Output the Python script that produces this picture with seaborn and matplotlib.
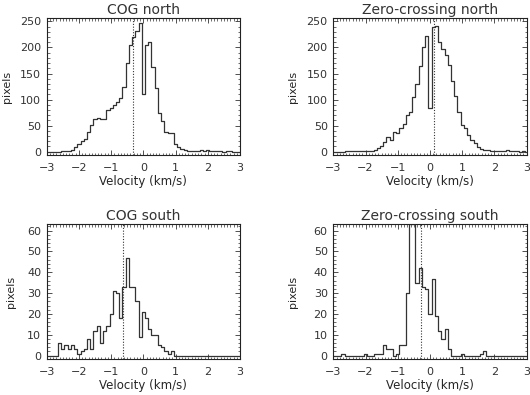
import numpy as np
import pandas as pd
import matplotlib
matplotlib.use("Agg")
import matplotlib.pyplot as plt
from matplotlib.ticker import MultipleLocator
import seaborn as sns

# bin centres (km/s), 0.1 wide
velocity = np.round(np.arange(-3.0, 3.05, 0.1), 1)
bin_edges = np.round(np.arange(-3.05, 3.1, 0.1), 2).tolist()

cog_north = [0, 0, 0, 0, 0, 1, 1, 2, 4, 8,
             15, 20, 25, 37, 52, 62, 65, 63, 63, 80,
             84, 90, 95, 103, 125, 170, 205, 220, 232, 247,
             110, 205, 210, 163, 122, 75, 58, 38, 36, 35,
             14, 8, 5, 3, 2, 1, 1, 2, 3, 2,
             4, 2, 1, 1, 1, 0, 1, 1, 0, 0, 0]
zc_north = [0, 0, 0, 0, 1, 1, 1, 2, 2, 2,
            1, 1, 1, 3, 7, 10, 18, 28, 22, 38,
            35, 45, 53, 70, 76, 105, 130, 165, 200, 222,
            83, 240, 242, 210, 198, 186, 167, 136, 106, 76,
            52, 45, 32, 22, 16, 8, 5, 4, 3, 2,
            2, 1, 2, 2, 3, 1, 1, 1, 0, 2, 0]
cog_south = [0, 0, 0, 0, 6, 3, 5, 3, 5, 3,
             1, 2, 3, 8, 3, 12, 14, 6, 12, 14,
             20, 31, 30, 18, 33, 47, 33, 33, 26, 9,
             21, 18, 13, 10, 10, 5, 4, 2, 1, 2,
             0, 0, 0, 0, 0, 0, 0, 0, 0, 0,
             0, 0, 0, 0, 0, 0, 0, 0, 0, 0, 0]
zc_south = [0, 0, 0, 1, 0, 0, 0, 0, 0, 0,
            1, 0, 0, 1, 1, 1, 5, 3, 3, 0,
            1, 5, 5, 30, 63, 63, 35, 42, 33, 32,
            20, 37, 19, 12, 8, 13, 3, 0, 0, 0,
            1, 0, 0, 0, 0, 0, 1, 2, 0, 0,
            0, 0, 0, 0, 0, 0, 0, 0, 0, 0, 0]

titles = ["COG north", "Zero-crossing north", "COG south", "Zero-crossing south"]
mean_velocity = [-0.31, 0.13, -0.62, -0.29]

sns.set_theme(style="ticks")
plt.rcParams.update({
    "font.family": ["DejaVu Sans"],
    "xtick.direction": "in",
    "ytick.direction": "in",
    "xtick.top": True,
    "ytick.right": True,
    "xtick.major.size": 3.5,
    "ytick.major.size": 3.5,
    "xtick.minor.size": 1.8,
    "ytick.minor.size": 1.8,
    "xtick.major.width": 0.6,
    "ytick.major.width": 0.6,
    "xtick.minor.width": 0.5,
    "ytick.minor.width": 0.5,
    "axes.linewidth": 0.8,
    "axes.edgecolor": "#222222",
    "text.color": "#333333",
    "xtick.color": "#333333",
    "ytick.color": "#333333",
})

fig = plt.figure(figsize=(5.3, 3.95), dpi=100)
W, H = 530, 395
boxes = [(46.7, 18.3, 240, 155), (333.3, 18.3, 526.7, 155),
         (46.7, 224, 240, 359), (333.3, 224, 526.7, 359)]
label_x = [-0.177, -0.184, -0.159, -0.181]
series = [cog_north, zc_north, cog_south, zc_south]

for i, (counts, title, vmean, box) in enumerate(zip(series, titles, mean_velocity, boxes)):
    x0, y0, x1, y1 = box
    ax = fig.add_axes([x0 / W, 1 - y1 / H, (x1 - x0) / W, (y1 - y0) / H])
    df = pd.DataFrame({"velocity": velocity, "pixels": counts})
    sns.histplot(data=df, x="velocity", weights="pixels", bins=bin_edges,
                 element="step", fill=False, color="#333333", linewidth=0.9, ax=ax)
    ax.axvline(vmean, ls=(0, (1, 1.5)), color="#333333", lw=0.8)
    ax.set_xlim(-3, 3)
    ax.xaxis.set_major_locator(MultipleLocator(1))
    ax.xaxis.set_minor_locator(MultipleLocator(0.1))
    if i < 2:
        ax.set_ylim(-6.4, 256)
        ax.yaxis.set_major_locator(MultipleLocator(50))
        ax.yaxis.set_minor_locator(MultipleLocator(10))
    else:
        ax.set_ylim(-1.6, 63.2)
        ax.yaxis.set_major_locator(MultipleLocator(10))
        ax.yaxis.set_minor_locator(MultipleLocator(2))
    ax.tick_params(which="both", labelsize=8)
    ax.tick_params(axis="x", pad=5.5)
    ax.tick_params(axis="y", pad=4)
    ax.set_title(title, fontsize=10, pad=3)
    ax.set_xlabel("Velocity (km/s)", fontsize=8.5, labelpad=2)
    ax.set_ylabel("pixels", fontsize=8)
    ax.yaxis.set_label_coords(label_x[i], 0.5)

fig.savefig("out.png", dpi=100)
